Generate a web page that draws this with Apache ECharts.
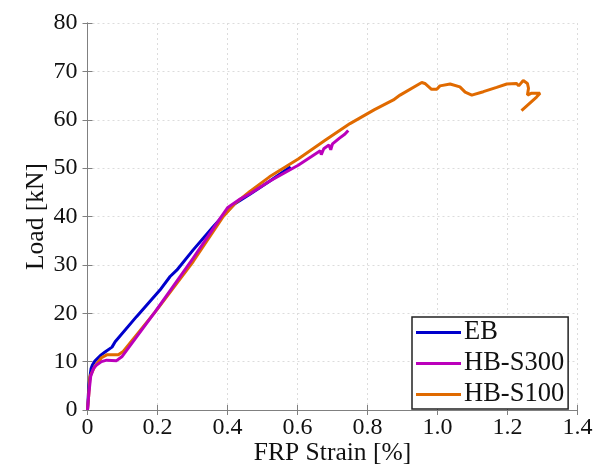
<!DOCTYPE html>
<html>
<head>
<meta charset="utf-8">
<script src="https://cdn.jsdelivr.net/npm/echarts@6/dist/echarts.min.js"></script>
<style>
html,body{margin:0;padding:0;background:#fff;}
#chart{width:603px;height:466px;}
</style>
</head>
<body>
<div id="chart"></div>
<script>
// ---- data ----
const seriesNames = ['EB', 'HB-S300', 'HB-S100'];
const xTickLabels = ['0', '0.2', '0.4', '0.6', '0.8', '1.0', '1.2', '1.4'];
const yTickLabels = ['0', '10', '20', '30', '40', '50', '60', '70', '80'];

const ebStrain = [0, 0.004, 0.010, 0.014, 0.021, 0.039, 0.050, 0.070, 0.079, 0.140, 0.207, 0.236, 0.255, 0.302, 0.359, 0.398, 0.420, 0.464, 0.520, 0.580];
const ebLoad   = [0, 5.2, 8.5, 9.3, 10.1, 11.4, 12.0, 13.0, 14.1, 19.3, 24.8, 27.6, 28.9, 33.1, 37.9, 41.0, 42.6, 44.6, 47.3, 50.3];

const s300Strain = [0, 0.004, 0.009, 0.017, 0.026, 0.040, 0.055, 0.083, 0.098, 0.193, 0.302, 0.379, 0.400, 0.436, 0.464, 0.520, 0.602, 0.640, 0.665, 0.668, 0.675, 0.690, 0.695, 0.700, 0.720, 0.735, 0.745];
const s300Load   = [0, 3.5, 6.9, 8.6, 9.3, 10.0, 10.3, 10.2, 11.0, 20.3, 31.4, 39.6, 41.8, 43.6, 44.7, 47.3, 50.6, 52.4, 53.6, 52.8, 54.0, 54.8, 53.8, 55.0, 56.2, 57.0, 57.8];

const s100Strain = [0, 0.004, 0.007, 0.021, 0.040, 0.055, 0.088, 0.102, 0.198, 0.302, 0.388, 0.420, 0.464, 0.520, 0.602, 0.680, 0.750, 0.820, 0.874, 0.893, 0.955, 0.964, 0.983, 0.998, 1.007, 1.036, 1.064, 1.079, 1.098, 1.131, 1.169, 1.198, 1.226, 1.232, 1.245, 1.257, 1.260, 1.257, 1.269, 1.293, 1.283, 1.240];
const s100Load   = [0, 3.5, 6.9, 9.0, 10.8, 11.4, 11.4, 12.1, 20.7, 30.7, 40.0, 42.6, 45.2, 48.2, 51.9, 55.8, 59.2, 62.1, 64.1, 65.1, 67.7, 67.5, 66.3, 66.3, 67.0, 67.4, 66.8, 65.7, 65.1, 65.8, 66.7, 67.4, 67.5, 67.0, 68.1, 67.5, 66.5, 65.1, 65.5, 65.5, 64.7, 61.9];

const colors = {'EB': '#0000CC', 'HB-S300': '#BB00BB', 'HB-S100': '#E06A00'};

function pairs(xs, ys) { return xs.map((x, i) => [x, ys[i]]); }

const FONT = 'Liberation Serif';
const axisGray = '#808080';
const gridStyle = {show: true, lineStyle: {color: '#dcdcdc', type: [2, 3], width: 1}};

const chart = echarts.init(document.getElementById('chart'), null, {renderer: 'canvas'});

const lineSeries = (name, xs, ys, z) => ({
  name: name, type: 'line', data: pairs(xs, ys), showSymbol: false, symbol: 'none',
  lineStyle: {color: colors[name], width: 3}, itemStyle: {color: colors[name]},
  z: z, animation: false
});

chart.setOption({
  animation: false,
  backgroundColor: '#fff',
  grid: {left: 87.5, right: 25.5, top: 23, bottom: 56, containLabel: false, outerBoundsMode: 'none'},
  legend: {
    data: seriesNames,
    orient: 'vertical',
    left: 412, top: 317,
    backgroundColor: '#fff',
    borderColor: '#222', borderWidth: 1.5, borderRadius: 0,
    padding: [2, 4, 1, 4],
    itemGap: 4, itemWidth: 45, itemHeight: 3,
    icon: 'rect',
    textStyle: {fontFamily: FONT, fontSize: 26.5, color: '#111', lineHeight: 23, padding: [0, 0, 0, -2]},
    selectedMode: false
  },
  xAxis: [{
    type: 'value', min: 0, max: 1.4, interval: 0.2,
    name: 'FRP Strain [%]', nameLocation: 'middle', nameGap: 30, nameMoveOverlap: false,
    nameTextStyle: {fontFamily: FONT, fontSize: 25.5, color: '#111'},
    axisLine: {show: true, lineStyle: {color: axisGray}},
    axisTick: {show: true, inside: true, length: 5, lineStyle: {color: axisGray}},
    axisLabel: {fontFamily: FONT, fontSize: 24, color: '#111', margin: 6,
      formatter: (v) => xTickLabels[Math.round(v / 0.2)]},
    splitLine: gridStyle
  }, {
    type: 'value', min: 0, max: 1.4, interval: 0.2, position: 'top',
    axisLine: {show: true, lineStyle: {color: axisGray}},
    axisTick: {show: true, inside: true, length: 5, lineStyle: {color: axisGray}},
    axisLabel: {show: false}, splitLine: {show: false}
  }],
  yAxis: [{
    type: 'value', min: 0, max: 80, interval: 10,
    name: 'Load [kN]', nameLocation: 'middle', nameGap: 38, nameMoveOverlap: false,
    nameTextStyle: {fontFamily: FONT, fontSize: 25.5, color: '#111'},
    axisLine: {show: true, lineStyle: {color: axisGray}},
    axisTick: {show: true, inside: true, length: 5, lineStyle: {color: axisGray}},
    axisLabel: {fontFamily: FONT, fontSize: 24, color: '#111', margin: 10,
      formatter: (v) => yTickLabels[Math.round(v / 10)]},
    splitLine: gridStyle
  }, {
    type: 'value', min: 0, max: 80, interval: 10, position: 'right',
    axisLine: {show: true, lineStyle: {color: axisGray}},
    axisTick: {show: true, inside: true, length: 5, lineStyle: {color: axisGray}},
    axisLabel: {show: false}, splitLine: {show: false}
  }],
  series: [
    lineSeries('EB', ebStrain, ebLoad, 2),
    lineSeries('HB-S100', s100Strain, s100Load, 3),
    lineSeries('HB-S300', s300Strain, s300Load, 4)
  ]
});
</script>
</body>
</html>
